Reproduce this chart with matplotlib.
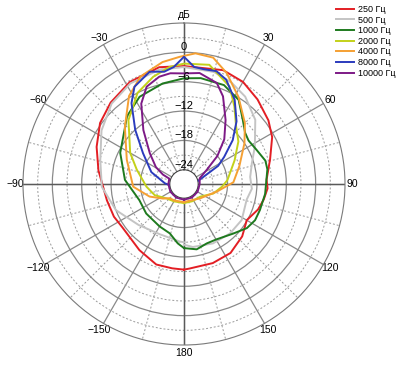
import matplotlib.pyplot as plt
import numpy as np

plt.rcParams['font.family'] = ['Liberation Sans', 'DejaVu Sans']

# angles in degrees (clockwise from the top), levels in dB
ang_250 = [-180, -172, -161, -146, -125, -115, -102, -81, -67, -54, -42, -28, -12, 0,
           19, 30, 41, 53, 62, 74, 87, 93, 101, 109, 120, 125, 132, 146, 160, 176, 180]
db_250 = [-9.4, -9.5, -9.5, -10.6, -11.5, -11.1, -10.8, -9.2, -7.5, -5.7, -4.5, -3.3, -2.5, -2.8,
          -2.3, -2.8, -4.0, -5.3, -6.5, -8.6, -10.0, -9.8, -10.3, -10.9, -12.1, -11.7, -10.9, -9.9, -9.7, -9.6, -9.4]

ang_500 = [-180, -176, -154, -132, -111, -92, -74, -57, -42, -28, -12, 0,
           15, 25, 35, 48, 62, 73, 84, 94, 104, 122, 137, 154, 172, 180]
db_500 = [-15.0, -15.1, -15.5, -14.4, -12.0, -10.1, -9.1, -6.8, -4.8, -3.6, -3.0, -3.0,
          -3.2, -4.0, -5.1, -7.3, -10.5, -12.4, -13.3, -13.0, -13.7, -13.0, -13.1, -13.4, -13.9, -14.5]

ang_1000 = [-180, -174, -164, -150, -128, -110, -86, -64, -40, -27, -12, 0,
            9, 22, 33, 42, 50, 56, 65, 74, 80, 97, 109, 117, 125, 135, 150, 159, 169, 180]
db_1000 = [-13.8, -14.7, -16.4, -16.9, -17.1, -17.2, -14.8, -12.4, -8.8, -6.9, -5.9, -5.3,
           -5.0, -5.1, -6.4, -9.0, -10.6, -11.0, -10.5, -9.6, -9.6, -10.2, -10.5, -10.6, -11.2, -12.6, -13.8, -13.9, -13.3, -13.8]

ang_2000 = [-180, -150, -130, -111, -94, -73, -60, -41, -27, -16, -7, 0,
            12, 25, 33, 42, 52, 65, 85, 94, 108, 128, 155, 180]
db_2000 = [-23.0, -22.8, -22.3, -20.5, -19.2, -16.8, -14.2, -9.6, -6.0, -4.1, -2.8, -2.3,
           -2.0, -4.9, -8.0, -11.0, -12.8, -15.5, -18.0, -19.1, -20.6, -22.7, -23.0, -23.0]

ang_4000 = [-180, -150, -135, -125, -110, -93, -67, -46, -32, -22, -10, -2,
            5, 13, 21, 32, 45, 56, 72, 88, 103, 132, 160, 180]
db_4000 = [-23.2, -23.0, -22.8, -21.7, -19.4, -16.5, -14.2, -10.1, -5.7, -3.2, -1.6, -0.9,
           -0.1, -0.4, -2.6, -5.9, -9.3, -12.0, -15.0, -16.8, -20.0, -22.5, -23.3, -23.2]

ang_8000 = [-95, -88, -70, -53, -42, -33, -27, -17, -10, -5, 0,
            5, 10, 16, 22, 31, 40, 48, 56, 62, 70, 78]
db_8000 = [-24.0, -23.0, -19.8, -16.4, -12.0, -7.2, -4.6, -2.9, -3.6, -2.9, -0.9,
           -2.9, -3.1, -2.9, -3.9, -6.8, -10.2, -13.5, -17.0, -19.0, -22.7, -24.0]

ang_10000 = [-180, -150, -120, -90, -70, -66, -59, -48, -37, -28, -21, -13, -7, 0,
             8, 18, 24, 33, 42, 50, 58, 70, 90, 120, 150, 180]
db_10000 = [-23.7, -23.7, -23.7, -23.7, -23.7, -22.2, -20.2, -17.5, -13.1, -8.3, -5.6, -4.4, -4.1, -4.3,
            -4.0, -5.2, -7.3, -11.3, -14.6, -18.0, -21.4, -23.5, -23.7, -23.7, -23.7, -23.7]

series = [
    ('250 Гц', ang_250, db_250, '#e31e24'),
    ('500 Гц', ang_500, db_500, '#c4c4c4'),
    ('1000 Гц', ang_1000, db_1000, '#1e7a1e'),
    ('2000 Гц', ang_2000, db_2000, '#c3d11a'),
    ('4000 Гц', ang_4000, db_4000, '#f5a033'),
    ('8000 Гц', ang_8000, db_8000, '#2b3bbd'),
    ('10000 Гц', ang_10000, db_10000, '#7d1a86'),
]

theta_labels = ['дБ', '30', '60', '90', '120', '150', '180',
                '\u2212150', '\u2212120', '\u221290', '\u221260', '\u221230']
r_labels = [0, -6, -12, -18, -24]

fig = plt.figure(figsize=(4.04, 3.68), dpi=100)
ax = fig.add_axes([23 / 404, 23 / 368, 322 / 404, 322 / 368], projection='polar')
ax.set_theta_zero_location('N')
ax.set_theta_direction(-1)

for name, a, v, c in series:
    ax.plot(np.radians(a), v, color=c, lw=1.4, label=name, zorder=3)

# darker main axes
for a in [0, 90, 180, 270]:
    ax.plot([np.radians(a)] * 2, [-24, 6], color='#5a5a5a', lw=1.0, zorder=2)

ax.set_ylim(-24, 6)
ax.set_rorigin(-26.9)

ax.set_xticks(np.radians(np.arange(0, 360, 30)))
ax.set_xticklabels(theta_labels)
ax.set_xticks(np.radians(np.arange(15, 360, 30)), minor=True)
ax.set_yticks([-18, -12, -6, 0])
ax.set_yticks([-21, -15, -9, -3, 3], minor=True)
ax.set_yticklabels([])
ax.grid(which='major', color='#8a8a8a', lw=0.9, ls='-')
ax.grid(which='minor', color='#9a9a9a', lw=0.7, ls=(0, (2, 2)))
ax.tick_params(axis='x', which='both', length=0, pad=-1.5, labelsize=7.5)
ax.tick_params(axis='y', which='both', length=0)
ax.spines['polar'].set_color('#7a7a7a')
ax.spines['inner'].set_color('#404040')

for v in r_labels:
    lab = str(v).replace('-', '\u2212')
    ax.text(0, v, lab, ha='center', va='bottom', fontsize=8, zorder=4)

fig.legend(loc='upper left', bbox_to_anchor=(336 / 404, 1 - 5 / 368), frameon=False,
           fontsize=6.5, handlelength=2.0, handletextpad=0.4, labelspacing=0.18,
           borderpad=0, borderaxespad=0)

fig.savefig('out.png', dpi=100)
